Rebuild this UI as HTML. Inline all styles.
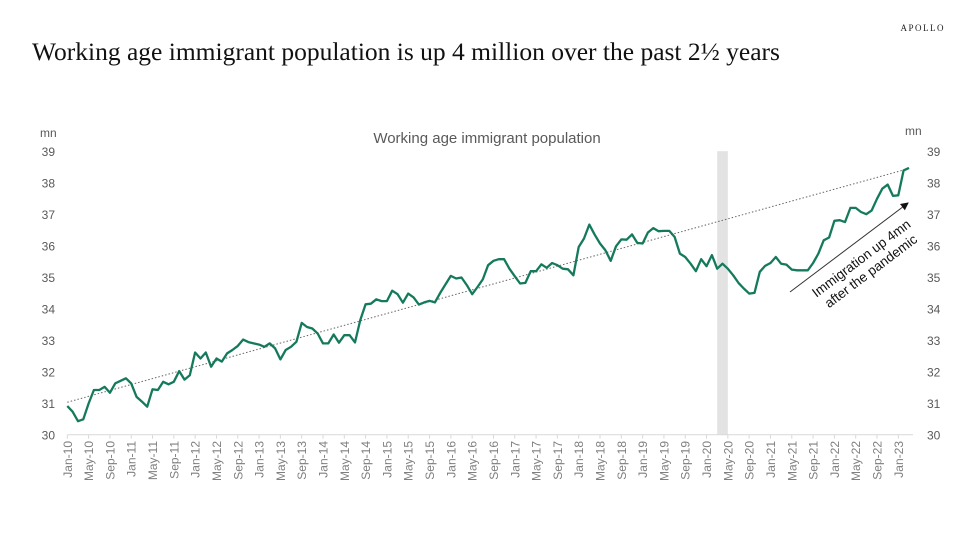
<!DOCTYPE html>
<html><head><meta charset="utf-8"><style>
body{margin:0;background:#fff;width:977px;height:550px;overflow:hidden}
svg{display:block}
</style></head><body>
<svg id="chart" width="977" height="550" xmlns="http://www.w3.org/2000/svg">
<text x="945" y="31" text-anchor="end" font-family="Liberation Serif, serif" font-size="9" letter-spacing="1.5" fill="#222">APOLLO</text>
<text x="32" y="60" font-family="Liberation Serif, serif" font-size="25.5" fill="#111">Working age immigrant population is up 4 million over the past 2½ years</text>
<text x="487" y="143" text-anchor="middle" font-family="Liberation Sans, sans-serif" font-size="15" fill="#595959">Working age immigrant population</text>
<text x="40" y="137" font-family="Liberation Sans, sans-serif" font-size="12" fill="#595959">mn</text>
<text x="905" y="135" font-family="Liberation Sans, sans-serif" font-size="12" fill="#595959">mn</text>
<g id="g"></g>
</svg>
<script>
const values=[30.91,30.73,30.43,30.49,30.99,31.42,31.42,31.52,31.33,31.63,31.71,31.79,31.63,31.2,31.05,30.89,31.44,31.42,31.68,31.6,31.68,32.02,31.75,31.89,32.61,32.42,32.61,32.16,32.42,32.32,32.58,32.69,32.82,33.02,32.94,32.9,32.86,32.79,32.9,32.74,32.39,32.69,32.79,32.95,33.55,33.42,33.37,33.21,32.9,32.9,33.18,32.92,33.16,33.16,32.93,33.64,34.14,34.16,34.3,34.24,34.24,34.57,34.46,34.19,34.48,34.36,34.13,34.2,34.25,34.2,34.5,34.77,35.04,34.96,34.99,34.75,34.46,34.69,34.93,35.38,35.52,35.57,35.57,35.27,35.03,34.8,34.82,35.19,35.19,35.41,35.3,35.45,35.38,35.27,35.25,35.06,35.96,36.23,36.67,36.35,36.07,35.86,35.52,35.98,36.2,36.19,36.36,36.09,36.07,36.42,36.56,36.46,36.47,36.47,36.28,35.75,35.64,35.43,35.19,35.57,35.35,35.7,35.27,35.43,35.27,35.06,34.82,34.64,34.48,34.5,35.17,35.36,35.45,35.64,35.43,35.4,35.24,35.22,35.22,35.22,35.45,35.75,36.17,36.26,36.79,36.81,36.75,37.2,37.2,37.07,37.0,37.12,37.49,37.81,37.94,37.58,37.6,38.39,38.47];
const yTicks=[30,31,32,33,34,35,36,37,38,39];
const monthNames=["Jan","Feb","Mar","Apr","May","Jun","Jul","Aug","Sep","Oct","Nov","Dec"];
const trendStart=31.03, trendEnd=38.45;
const recessionStart=122, recessionEnd=124;
const ns="http://www.w3.org/2000/svg";
const g=document.getElementById('g');
const X=m=>67.3+m*5.327;
const Y=v=>434.7-(v-30)*31.5;
function mk(t,a){const e=document.createElementNS(ns,t);for(const k in a)e.setAttribute(k,a[k]);g.appendChild(e);return e;}
let r=mk('rect',{x:X(recessionStart),y:Y(39),width:X(recessionEnd)-X(recessionStart),height:Y(30)-Y(39),fill:'#e3e3e3'});


let ax=mk('line',{x1:X(0),x2:913,y1:Y(30),y2:Y(30),stroke:'#d9d9d9','stroke-width':1});


yTicks.forEach(v=>{
  let t=mk('text',{x:55,y:Y(v)+5,'text-anchor':'end','font-family':'Liberation Sans, sans-serif','font-size':12,fill:'#595959'});t.textContent=v;
  
  
  let t2=mk('text',{x:927,y:Y(v)+5,'font-family':'Liberation Sans, sans-serif','font-size':12,fill:'#595959'});t2.textContent=v;
  
  
});
for(let m=0;m<values.length;m+=4){
  const x=X(m);
  let tk=mk('line',{x1:x,x2:x,y1:Y(30),y2:Y(30)+4,stroke:'#d9d9d9'});
  
  
  const lab=monthNames[m%12]+'-'+String(10+Math.floor(m/12)).padStart(2,'0');
  let t=mk('text',{x:0,y:0,'text-anchor':'end','font-family':'Liberation Sans, sans-serif','font-size':12,fill:'#7f7f7f',transform:`translate(${x+4.5},441) rotate(-90)`});
  t.textContent=lab;
  
  
}
let tr=mk('line',{x1:X(0),y1:Y(trendStart),x2:X(values.length-1),y2:Y(trendEnd),stroke:'#666','stroke-width':1,'stroke-dasharray':'1.5,2'});


let p=mk('polyline',{points:values.map((v,i)=>X(i).toFixed(1)+','+Y(v).toFixed(1)).join(' '),fill:'none',stroke:'#157a5c','stroke-width':2.3,'stroke-linejoin':'round'});


let defs=mk('defs',{});defs.innerHTML='<marker id="ah" markerWidth="8" markerHeight="8" refX="7" refY="4" orient="auto"><path d="M0,0 L8,4 L0,8 z" fill="#111"/></marker>';
let ar=mk('line',{x1:790,y1:292,x2:908,y2:203,stroke:'#333','stroke-width':1,'marker-end':'url(#ah)'});


let an=mk('text',{'text-anchor':'middle','font-family':'Liberation Sans, sans-serif','font-size':13.5,fill:'#111',transform:'translate(864,262) rotate(-37)'});


an.innerHTML='<tspan x="0" y="0">Immigration up 4mn</tspan><tspan x="0" y="16">after the pandemic</tspan>';
</script>
</body></html>
